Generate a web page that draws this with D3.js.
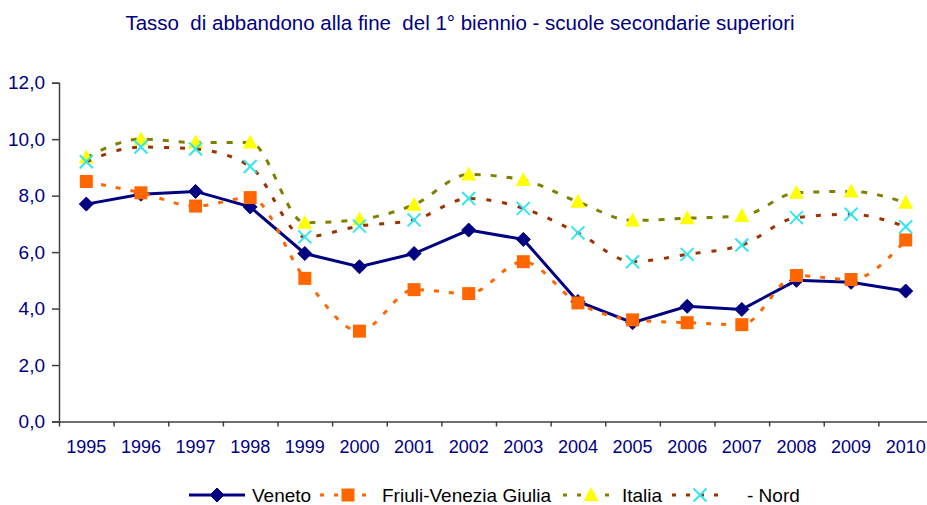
<!DOCTYPE html>
<html>
<head>
<meta charset="utf-8">
<script src="https://cdn.jsdelivr.net/npm/d3@7"></script>
<style>
  body { margin: 0; background: #fff; }
  text { font-family: "Liberation Sans", Arial, sans-serif; fill: #000080; }
</style>
</head>
<body>
<div class="chart"></div>
<script>
// data
const years = ['1995','1996','1997','1998','1999','2000','2001','2002','2003','2004','2005','2006','2007','2008','2009','2010']
const veneto = [7.7, 8.05, 8.15, 7.6, 5.95, 5.48, 5.95, 6.78, 6.45, 4.25, 3.5, 4.08, 3.97, 5.0, 4.93, 4.62]
const friuli = [8.5, 8.1, 7.63, 7.93, 5.07, 3.2, 4.67, 4.53, 5.66, 4.2, 3.6, 3.5, 3.43, 5.17, 5.03, 6.43]
const italia = [9.35, 10.0, 9.88, 9.88, 7.04, 7.16, 7.68, 8.75, 8.55, 7.78, 7.12, 7.2, 7.28, 8.1, 8.15, 7.75]
const nord = [9.2, 9.72, 9.65, 9.03, 6.54, 6.92, 7.14, 7.9, 7.55, 6.68, 5.66, 5.92, 6.25, 7.22, 7.34, 6.9]
const seriesNames = ['Veneto', 'Friuli-Venezia Giulia', 'Italia', '- Nord']
const yTicks = [0, 2, 4, 6, 8, 10, 12]

const W = 927, H = 505
const plot = { left: 59, right: 933, top: 82.7, bottom: 421.5 }

const svg = d3.select('.chart')
  .append('svg')
  .attr('width', W)
  .attr('height', H)

const xScale = d3.scaleBand()
  .domain(years)
  .range([plot.left, plot.right])

const xEdges = d3.scaleLinear()
  .domain([0, years.length])
  .range([plot.left, plot.right])

const yScale = d3.scaleLinear()
  .domain([0, 12])
  .range([plot.bottom, plot.top])

const itFmt = d3.formatLocale({ decimal: ',', thousands: '.', grouping: [3], currency: ['€', ''] }).format('.1f')

// title
svg.append('text')
  .attr('x', 460)
  .attr('y', 30)
  .attr('text-anchor', 'middle')
  .style('font-size', '20.5px')
  .style('white-space', 'pre')
  .text('Tasso  di abbandono alla fine  del 1° biennio - scuole secondarie superiori')

// axes
const axisColor = '#404040'

const yAxis = svg.append('g')
  .attr('transform', `translate(${plot.left},0)`)
  .call(d3.axisLeft(yScale).tickValues(yTicks).tickFormat(itFmt).tickSize(7).tickPadding(7))
yAxis.select('.domain').attr('stroke', axisColor).attr('stroke-width', 1.5)
yAxis.selectAll('.tick line').attr('stroke', axisColor).attr('stroke-width', 1.5)
yAxis.selectAll('.tick text').style('font-size', '19px').attr('fill', '#000080')

const xTicks = svg.append('g')
  .attr('transform', `translate(0,${plot.bottom})`)
  .call(d3.axisBottom(xEdges).tickValues(d3.range(1, years.length + 1)).tickFormat('').tickSizeOuter(0).tickSize(5))
xTicks.select('.domain').attr('stroke', axisColor).attr('stroke-width', 1.5)
xTicks.selectAll('.tick line').attr('stroke', axisColor).attr('stroke-width', 1.5)

const xAxis = svg.append('g')
  .attr('transform', `translate(0,${plot.bottom})`)
  .call(d3.axisBottom(xScale).tickSize(0).tickPadding(19))
xAxis.select('.domain').remove()
xAxis.selectAll('.tick text').style('font-size', '18px').attr('fill', '#000080')

// series
const series = [
  { name: seriesNames[0], values: veneto, stroke: '#000080', dash: null, curve: d3.curveLinear, marker: 'diamond', fill: '#000080', mstroke: '#000080' },
  { name: seriesNames[1], values: friuli, stroke: '#FF6600', dash: '5,10', curve: d3.curveMonotoneX, marker: 'square', fill: '#FF6600', mstroke: 'none' },
  { name: seriesNames[2], values: italia, stroke: '#808000', dash: '6,10', curve: d3.curveMonotoneX, marker: 'triangle', fill: '#FFFF00', mstroke: 'none' },
  { name: seriesNames[3], values: nord, stroke: '#993300', dash: '5,11', curve: d3.curveMonotoneX, marker: 'x', fill: 'none', mstroke: '#33E6EE' }
]

const markerPath = {
  diamond: 'M0,-7L7,0L0,7L-7,0Z',
  square: 'M-6.5,-6.5H6.5V6.5H-6.5Z',
  triangle: 'M0,-8L7.5,6H-7.5Z',
  x: 'M-6.5,-6.5L6.5,6.5M6.5,-6.5L-6.5,6.5'
}

const drawMarker = (g, s) => {
  g.append('path')
    .attr('d', markerPath[s.marker])
    .attr('fill', s.fill)
    .attr('stroke', s.mstroke)
    .attr('stroke-width', s.marker === 'x' ? 2 : 1)
}

series.forEach(s => {
  const line = d3.line()
    .x((d, i) => xScale(years[i]) + xScale.bandwidth() / 2)
    .y(d => yScale(d))
    .curve(s.curve)

  svg.append('path')
    .datum(s.values)
    .attr('d', line)
    .attr('fill', 'none')
    .attr('stroke', s.stroke)
    .attr('stroke-width', 3)
    .attr('stroke-dasharray', s.dash)

  s.values.forEach((v, i) => {
    const g = svg.append('g')
      .attr('transform', `translate(${xScale(years[i]) + xScale.bandwidth() / 2},${yScale(v)})`)
    drawMarker(g, s)
  })
})

// legend
const legendY = 495
const legendItems = [
  { x: 189, tx: 63, s: series[0] },
  { x: 320, tx: 62, s: series[1] },
  { x: 563, tx: 59, s: series[2] },
  { x: 672, tx: 75, s: series[3] }
]

legendItems.forEach(({ x, tx, s }) => {
  const g = svg.append('g').attr('transform', `translate(${x},${legendY})`)
  g.append('line')
    .attr('x1', 0).attr('x2', 56)
    .attr('stroke', s.stroke)
    .attr('stroke-width', 3)
    .attr('stroke-dasharray', s.dash ? '4,10' : null)
  const m = g.append('g').attr('transform', 'translate(28,0)')
  drawMarker(m, s)
  g.append('text')
    .attr('x', tx)
    .attr('y', 7)
    .style('font-size', '19px')
    .style('fill', '#000000')
    .text(s.name)
})
</script>
</body>
</html>
